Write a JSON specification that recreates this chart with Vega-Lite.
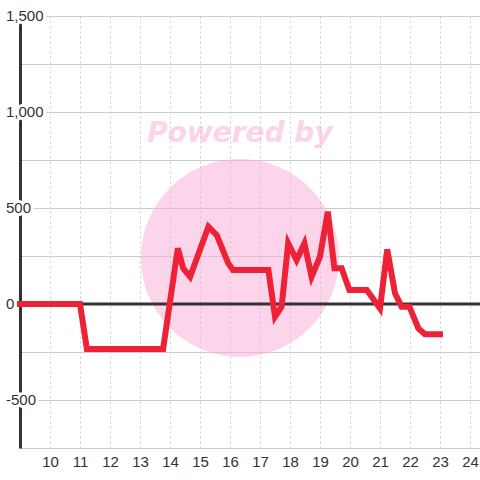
{
  "$schema": "https://vega.github.io/schema/vega-lite/v6.json",
  "width": 460,
  "height": 432,
  "autosize": {"type": "none"},
  "padding": {"left": 20, "top": 16, "right": 0, "bottom": 32},
  "background": "white",
  "config": {"view": {"stroke": null}, "axis": {"labelOverlap": false}, "axisX": {"labelOverlap": false}},
  "datasets": {
    "series": [
      {"t": 9, "v": 0},
      {"t": 11, "v": 0},
      {"t": 11.23, "v": -234},
      {"t": 13.77, "v": -234},
      {"t": 14.26, "v": 290},
      {"t": 14.44, "v": 186},
      {"t": 14.67, "v": 142},
      {"t": 15.28, "v": 403},
      {"t": 15.56, "v": 359},
      {"t": 15.94, "v": 212},
      {"t": 16.1, "v": 177},
      {"t": 17.28, "v": 177},
      {"t": 17.5, "v": -66},
      {"t": 17.72, "v": -14},
      {"t": 17.94, "v": 316},
      {"t": 18.22, "v": 229},
      {"t": 18.48, "v": 316},
      {"t": 18.72, "v": 142},
      {"t": 19.0, "v": 247},
      {"t": 19.26, "v": 481},
      {"t": 19.48, "v": 186},
      {"t": 19.72, "v": 186},
      {"t": 19.98, "v": 73},
      {"t": 20.56, "v": 73},
      {"t": 21.0, "v": -23},
      {"t": 21.24, "v": 285},
      {"t": 21.5, "v": 56},
      {"t": 21.72, "v": -14},
      {"t": 21.98, "v": -14},
      {"t": 22.28, "v": -127},
      {"t": 22.5, "v": -158},
      {"t": 23.0, "v": -158}
    ],
    "ylabels": [
      {"t": 9, "v": 1500, "label": "1,500"},
      {"t": 9, "v": 1000, "label": "1,000"},
      {"t": 9, "v": 500, "label": "500"},
      {"t": 9, "v": 0, "label": "0"},
      {"t": 9, "v": -500, "label": "-500"}
    ],
    "mark": [
      {"t": 16.33, "v": 240, "tv": 885, "text": "Powered by"}
    ]
  },
  "encoding": {
    "x": {
      "field": "t", "type": "quantitative",
      "scale": {"domain": [9, 24.3333], "nice": false, "zero": false},
      "axis": {
        "values": [10, 11, 12, 13, 14, 15, 16, 17, 18, 19, 20, 21, 22, 23, 24],
        "title": null, "domain": false, "ticks": false,
        "grid": true, "gridColor": "#cccccc", "gridDash": [2, 3], "gridWidth": 1,
        "labelFont": "Liberation Sans", "labelFontSize": 15, "labelColor": "#333333",
        "labelPadding": 6, "labelFlush": false, "labelOverlap": false
      }
    },
    "y": {
      "field": "v", "type": "quantitative",
      "scale": {"domain": [-750, 1500], "nice": false, "zero": false},
      "axis": {
        "values": [-750, -500, -250, 0, 250, 500, 750, 1000, 1250, 1500],
        "title": null, "labels": false, "ticks": false,
        "domain": true, "domainColor": "#333333", "domainWidth": 3,
        "grid": true, "gridColor": "#cccccc", "gridWidth": 1
      }
    }
  },
  "layer": [
    {
      "data": {"name": "mark"},
      "mark": {"type": "point", "shape": "circle", "filled": true, "size": 39200, "color": "#f9abd5", "opacity": 0.5}
    },
    {
      "data": {"name": "mark"},
      "mark": {"type": "text", "font": "DejaVu Sans", "fontWeight": "bold", "fontStyle": "italic", "fontSize": 28, "color": "#f9abd5", "opacity": 0.5, "align": "center", "baseline": "middle"},
      "encoding": {
        "y": {"field": "tv", "type": "quantitative"},
        "text": {"field": "text"}
      }
    },
    {
      "data": {"name": "ylabels"},
      "mark": {"type": "text", "font": "Liberation Sans", "fontSize": 15, "align": "left", "baseline": "middle", "dx": -14, "fill": "white", "stroke": "white", "strokeWidth": 6, "strokeJoin": "round"},
      "encoding": {
        "text": {"field": "label"}
      }
    },
    {
      "data": {"name": "ylabels"},
      "mark": {"type": "text", "font": "Liberation Sans", "fontSize": 15, "align": "left", "baseline": "middle", "dx": -14, "color": "#333333"},
      "encoding": {
        "text": {"field": "label"}
      }
    },
    {
      "data": {"name": "ylabels"},
      "transform": [{"filter": "datum.v === 0"}],
      "mark": {"type": "rule", "color": "#333333", "strokeWidth": 3, "strokeCap": "square"},
      "encoding": {"x": {"field": "t", "type": "quantitative"}, "x2": {"datum": 24.3333}}
    },
    {
      "data": {"name": "series"},
      "mark": {"type": "line", "color": "#ee2236", "strokeWidth": 6, "strokeCap": "square", "strokeJoin": "miter"}
    }
  ]
}
